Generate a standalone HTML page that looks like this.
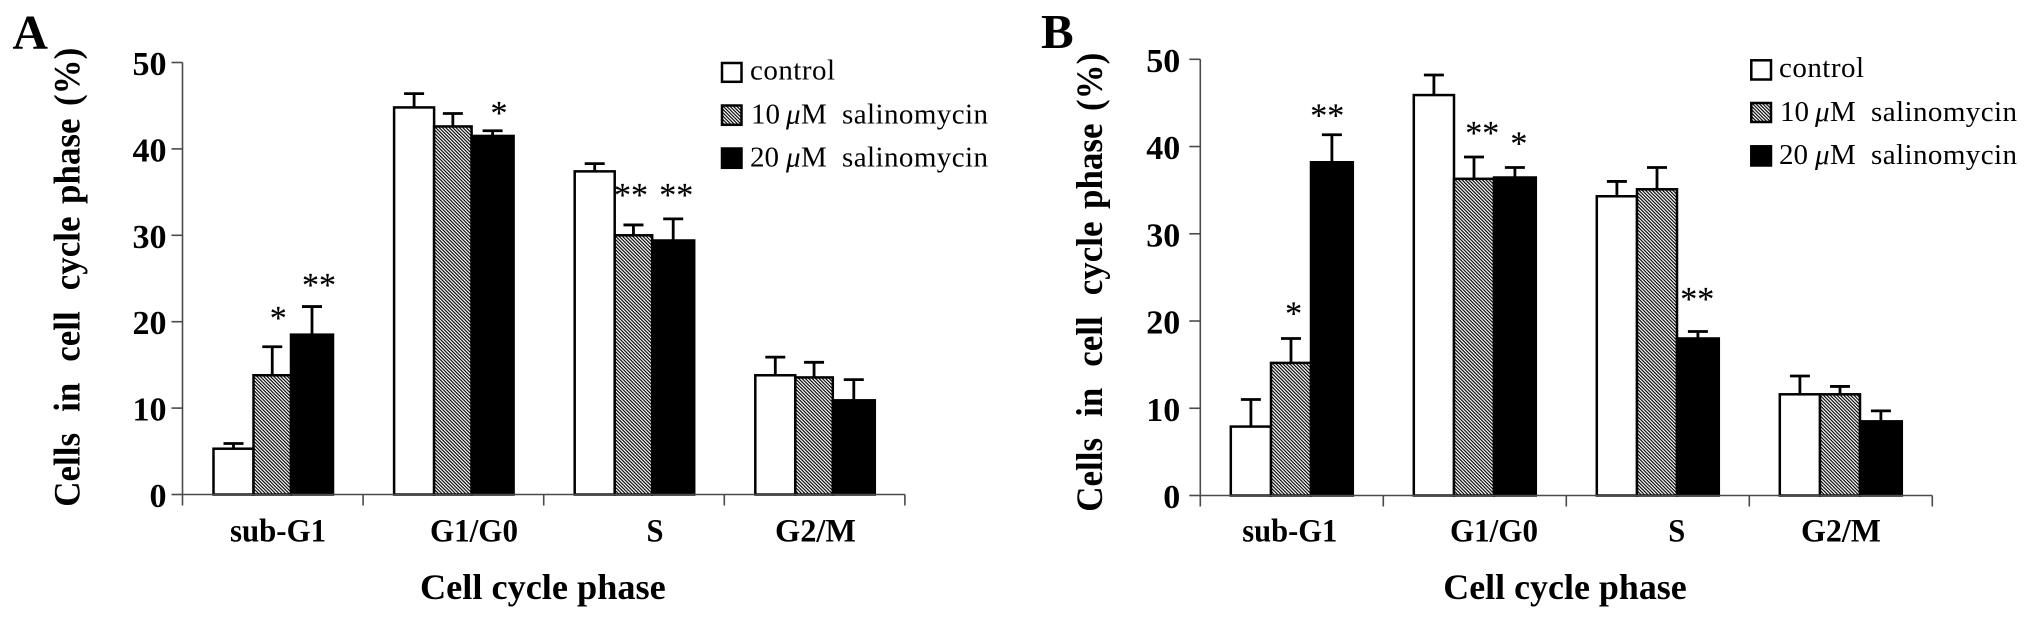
<!DOCTYPE html>
<html lang="en">
<head>
<meta charset="utf-8">
<title>Cell cycle phase distribution with salinomycin</title>
<style>
html,body{margin:0;padding:0;background:#fff;width:2031px;height:620px;overflow:hidden}
svg{display:block}
text{font-family:"Liberation Serif",serif;fill:#000}
.b{font-weight:bold}
</style>
</head>
<body>
<svg id="chart" xmlns="http://www.w3.org/2000/svg" width="2031" height="620" viewBox="0 0 2031 620">
<defs>
<pattern id="hatch" width="2.4" height="2.4" patternUnits="userSpaceOnUse" patternTransform="rotate(45)">
<rect width="2.4" height="2.4" fill="#fff"/>
<rect width="2.4" height="1.15" fill="#000"/>
</pattern>
</defs>
<rect width="2031" height="620" fill="#fff"/>
<text x="12.5" y="48.500" class="b" font-size="49">A</text>
<text x="1041" y="48" class="b" font-size="49">B</text>

<text transform="translate(79.5 506.7) rotate(-90) scale(.945 1)" class="b" font-size="37">Cells<tspan dx="13"> in</tspan><tspan dx="13"> cell</tspan><tspan dx="13"> cycle</tspan><tspan dx="4"> phase</tspan><tspan dx="4"> (%)</tspan></text>
<text transform="translate(1102 511.7) rotate(-90) scale(.945 1)" class="b" font-size="37">Cells<tspan dx="13"> in</tspan><tspan dx="13"> cell</tspan><tspan dx="13"> cycle</tspan><tspan dx="4"> phase</tspan><tspan dx="4"> (%)</tspan></text>

<g>
<rect x="722" y="63" width="19.5" height="18.8" fill="#fff" stroke="#000" stroke-width="2.5"/>
<text x="750" y="79.500" font-size="29" textLength="85">control</text>
<rect x="722" y="105.500" width="19.5" height="19.300" fill="url(#hatch)" stroke="#000" stroke-width="2.5"/>
<text x="751" y="123.300" font-size="29">10<tspan x="786" font-style="italic">μ</tspan><tspan x="801">M</tspan><tspan x="842" textLength="146">salinomycin</tspan></text>
<rect x="722" y="148.500" width="19.5" height="19.300" fill="#000" stroke="#000" stroke-width="2.5"/>
<text x="750" y="166.700" font-size="29">20<tspan x="786" font-style="italic">μ</tspan><tspan x="801">M</tspan><tspan x="842" textLength="146">salinomycin</tspan></text>
</g>

<g>
<rect x="1751.300" y="60.300" width="19.700" height="19.200" fill="#fff" stroke="#000" stroke-width="2.5"/>
<text x="1779" y="77" font-size="29" textLength="85">control</text>
<rect x="1751.300" y="103" width="19.700" height="19" fill="url(#hatch)" stroke="#000" stroke-width="2.5"/>
<text x="1780" y="121" font-size="29">10<tspan x="1815" font-style="italic">μ</tspan><tspan x="1830">M</tspan><tspan x="1871" textLength="146">salinomycin</tspan></text>
<rect x="1751.300" y="146.300" width="19.700" height="19.200" fill="#000" stroke="#000" stroke-width="2.5"/>
<text x="1779" y="164" font-size="29">20<tspan x="1815" font-style="italic">μ</tspan><tspan x="1830">M</tspan><tspan x="1871" textLength="146">salinomycin</tspan></text>
</g>
</svg>
<script>
const categories = ['sub-G1', 'G1/G0', 'S', 'G2/M'];
const seriesNames = ['control', '10um', '20um'];
const tickValues = [0, 10, 20, 30, 40, 50];

const controlA = [5.3, 44.8, 37.4, 13.8];
const low10A = [13.8, 42.6, 30.0, 13.55];
const high20A = [18.5, 41.5, 29.4, 10.9];
const controlUpperA = [5.9, 46.4, 38.3, 15.9];
const low10UpperA = [17.1, 44.1, 31.2, 15.3];
const high20UpperA = [21.75, 42.1, 31.9, 13.3];
const low10StarsA = ['*', '', '**', ''];
const high20StarsA = ['**', '*', '**', ''];
const low10StarLevelA = [20.9, 0, 35.1, 0];
const high20StarLevelA = [24.7, 44.6, 35.1, 0];

const controlB = [7.9, 45.9, 34.3, 11.6];
const low10B = [15.2, 36.3, 35.1, 11.6];
const high20B = [38.2, 36.45, 18.0, 8.5];
const controlUpperB = [11.0, 48.2, 36.0, 13.7];
const low10UpperB = [18.0, 38.8, 37.6, 12.5];
const high20UpperB = [41.35, 37.6, 18.8, 9.7];
const low10StarsB = ['*', '**', '', ''];
const high20StarsB = ['**', '*', '**', ''];
const low10StarLevelB = [21.3, 42.0, 0, 0];
const high20StarLevelB = [44.0, 40.8, 23.0, 0];

const svg = document.getElementById('chart');
const NS = 'http://www.w3.org/2000/svg';

function make(tag, parent, attrs, text) {
  const el = document.createElementNS(NS, tag);
  for (const k in attrs) el.setAttribute(k, attrs[k]);
  if (text !== undefined) el.textContent = text;
  parent.appendChild(el);
  return el;
}

function drawPanel(id, layout, values, uppers, stars, starLevels) {
  const yScale = v => layout.y0 - (v / 50) * (layout.y0 - layout.y50);
  const bandX = i => layout.x0 + i * layout.band;
  const axisColor = '#4a4a4a';

  const panel = make('g', svg, {});
  
  

  const fills = ['#fff', 'url(#hatch)', '#000'];
  categories.forEach((cat, c) => {
    seriesNames.forEach((name, s) => {
      const left = bandX(c) + layout.edges[s];
      const right = bandX(c) + layout.edges[s + 1];
      const mid = (left + right) / 2;
      const top = yScale(values[s][c]);
      const cap = yScale(uppers[s][c]);

      const err = make('path', panel, {
        d: 'M' + mid + ' ' + top + 'V' + cap + 'M' + (mid - 10) + ' ' + cap + 'H' + (mid + 10),
        stroke: '#000', 'stroke-width': 2.8, fill: 'none'
      });
      
      

      const bar = make('rect', panel, {
        x: left, y: top, width: right - left, height: layout.y0 - top,
        fill: fills[s], stroke: '#000', 'stroke-width': 2.5
      });
      
      
    });

    [1, 2].forEach(s => {
      const mark = stars[s - 1][c];
      if (!mark) return;
      const mid = bandX(c) + (layout.edges[s] + layout.edges[s + 1]) / 2 + layout.starDx[s - 1][c];
      const star = make('text', panel, {
        x: mid, y: yScale(starLevels[s - 1][c]) + 15, 'font-size': 34, 'text-anchor': 'middle',
        stroke: '#000', 'stroke-width': 0.15
      }, mark);
      
      
    });

    const label = make('text', panel, {
      x: layout.catX[c], y: 541.5, 'font-size': 33, 'font-weight': 'bold',
      textLength: layout.catW[c], lengthAdjust: 'spacingAndGlyphs'
    }, cat);
    
    
  });

  const yAxis = make('line', panel, {
    x1: layout.x0, x2: layout.x0, y1: layout.y50, y2: layout.y0, stroke: axisColor, 'stroke-width': 1.6
  });
  
  

  const xAxis = make('line', panel, {
    x1: layout.x0, x2: bandX(categories.length), y1: layout.y0, y2: layout.y0, stroke: axisColor, 'stroke-width': 1.6
  });
  
  

  for (let i = 0; i <= categories.length; i++) {
    const tick = make('line', panel, {
      x1: bandX(i), x2: bandX(i), y1: layout.y0, y2: layout.y0 + 11, stroke: axisColor, 'stroke-width': 1.6
    });
    
    
  }

  tickValues.forEach(v => {
    const tick = make('line', panel, {
      x1: layout.x0 - 11, x2: layout.x0, y1: yScale(v), y2: yScale(v), stroke: axisColor, 'stroke-width': 1.6
    });
    
    

    const label = make('text', panel, {
      x: layout.x0 - layout.tickGap, y: yScale(v) + 12.5, 'font-size': 34, 'font-weight': 'bold', 'text-anchor': 'end'
    }, String(v));
    
    
  });

  const xTitle = make('text', panel, {
    x: layout.xTitleX, y: 599, 'font-size': 36, 'font-weight': 'bold',
    textLength: layout.xTitleW, lengthAdjust: 'spacingAndGlyphs'
  }, 'Cell cycle phase');
  
  
}

drawPanel('a',
  { x0: 182.5, band: 180.6, y0: 494.5, y50: 62.5, edges: [31, 71, 108.5, 150.5], tickGap: 16,
    starDx: [[6, 0, -2.5, 0], [7, 6.4, 3, 0]],
    catX: [230, 430, 646.5, 775], catW: [96, 88, 17, 81], xTitleX: 420, xTitleW: 245.7 },
  [controlA, low10A, high20A],
  [controlUpperA, low10UpperA, high20UpperA],
  [low10StarsA, high20StarsA],
  [low10StarLevelA, high20StarLevelA]);

drawPanel('b',
  { x0: 1200.3, band: 183, y0: 495.5, y50: 59.3, edges: [30.5, 70.7, 110.7, 152.5], tickGap: 20,
    starDx: [[2.6, 8.2, 0, 0], [-4.6, 4, -0.6, 0]],
    catX: [1242.3, 1450, 1668.3, 1801], catW: [95, 88, 17, 80], xTitleX: 1443.3, xTitleW: 243.4 },
  [controlB, low10B, high20B],
  [controlUpperB, low10UpperB, high20UpperB],
  [low10StarsB, high20StarsB],
  [low10StarLevelB, high20StarLevelB]);
</script>
</body>
</html>
